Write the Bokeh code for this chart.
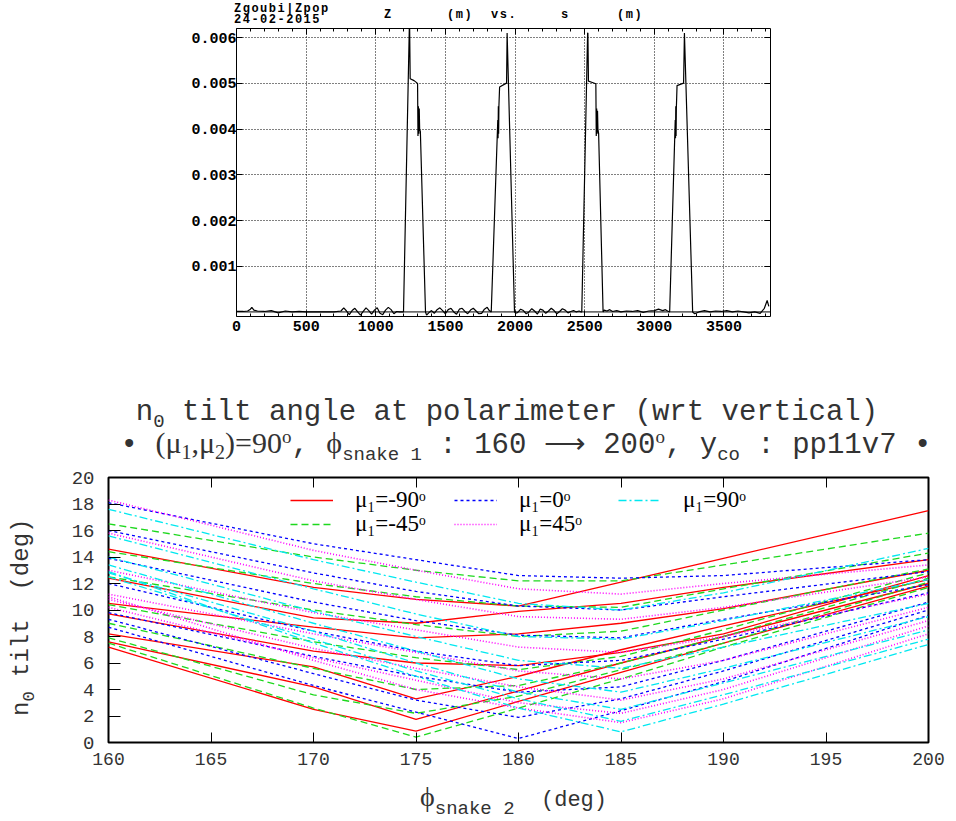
from bokeh.plotting import figure
from bokeh.models import (Range1d, FixedTicker, LinearAxis, Legend, LegendItem, Div,
                          Span, PrintfTickFormatter, CustomJSTickFormatter)
from bokeh.layouts import column, row
from bokeh.embed import file_html
from bokeh.resources import INLINE

MONO = "Liberation Mono"
SERIF = "Liberation Serif"

# ---------------- top chart data: Z (m) vs s (m), z in mm ----------------
s_base1 = [0, 50, 80, 100, 110, 125, 150, 200, 250, 300, 350, 400, 450, 500, 600, 700, 750, 770, 790, 810,
           830, 850, 870, 890, 910, 930, 950, 970, 990, 1010, 1030, 1050, 1070, 1090, 1110, 1130, 1150, 1170, 1190]
z_base1 = [0.01, 0.01, 0.02, 0.06, 0.1, 0.04, 0.02, 0.01, 0.03, -0.02, 0.02, 0.0, 0.01, 0.0, 0.0, 0.0, 0.02, 0.09, 0.02, -0.06,
           0.03, 0.08, 0.0, -0.07, 0.01, 0.09, 0.03, -0.05, 0.04, 0.09, -0.03, -0.06, 0.04, 0.1, 0.05, -0.04, 0.01, 0.0, 0.0]
s_peak1 = [1199, 1241, 1243, 1247, 1275, 1300, 1303, 1306, 1309, 1312, 1315, 1320, 1357]
z_peak1 = [0.0, 6.25, 6.25, 5.1, 5.06, 5.0, 3.85, 4.5, 3.9, 4.45, 4.0, 3.95, 0.0]
s_base2 = [1365, 1380, 1400, 1420, 1440, 1460, 1480, 1500, 1520, 1540, 1560, 1580, 1600, 1620, 1640, 1660,
           1680, 1700, 1720, 1740, 1760, 1780, 1800, 1815]
z_base2 = [-0.07, -0.02, 0.03, -0.03, 0.05, 0.09, 0.03, -0.04, 0.05, 0.08, 0.0, -0.05, 0.06, 0.08, 0.01, -0.04,
           0.04, 0.08, 0.02, -0.04, -0.03, 0.06, 0.1, 0.03]
s_peak2 = [1829, 1876, 1878, 1880, 1882, 1884, 1889, 1935, 1939, 1943, 1996]
z_peak2 = [0.0, 4.2, 3.8, 4.5, 3.9, 4.5, 4.92, 5.0, 5.0, 6.1, 0.0]
s_base3 = [2005, 2020, 2040, 2060, 2080, 2100, 2120, 2140, 2160, 2180, 2200, 2220, 2240, 2260, 2280, 2300,
           2320, 2340, 2360, 2380, 2400, 2420, 2440, 2460, 2475]
z_base3 = [-0.03, -0.01, 0.06, 0.03, -0.04, 0.0, 0.07, 0.02, -0.05, 0.06, 0.04, -0.03, 0.02, 0.08, 0.03, -0.04,
           0.01, 0.07, 0.04, -0.02, 0.01, 0.03, 0.0, 0.02, 0.0]
s_peak3 = [2479, 2521, 2523, 2527, 2555, 2580, 2583, 2586, 2589, 2592, 2595, 2600, 2632]
z_peak3 = [0.0, 6.1, 6.1, 5.05, 5.02, 4.99, 3.85, 4.45, 3.9, 4.4, 4.0, 3.9, 0.0]
s_base4 = [2640, 2660, 2680, 2700, 2730, 2760, 2800, 2840, 2880, 2920, 2960, 3000, 3030, 3060, 3080, 3095]
z_base4 = [0.04, 0.02, 0.05, 0.01, 0.03, 0.0, 0.02, 0.01, 0.03, -0.01, 0.02, 0.03, 0.06, 0.03, 0.05, 0.02]
s_peak4 = [3110, 3150, 3152, 3154, 3156, 3158, 3163, 3205, 3210, 3216, 3275]
z_peak4 = [0.0, 4.2, 3.8, 4.5, 3.85, 4.45, 4.95, 5.0, 5.0, 6.1, 0.0]
s_base5 = [3290, 3320, 3360, 3400, 3440, 3480, 3520, 3560, 3600, 3640, 3680, 3720, 3760, 3790, 3810, 3822]
z_base5 = [-0.04, 0.0, 0.03, 0.0, 0.02, 0.01, 0.03, 0.0, 0.02, 0.0, -0.02, 0.0, -0.03, 0.08, 0.25, 0.12]

s_ticks = [0, 500, 1000, 1500, 2000, 2500, 3000, 3500]
z_ticks = [0.001, 0.002, 0.003, 0.004, 0.005, 0.006]

# ---------------- bottom chart data: n0 tilt vs phi_snake2 ----------------
phi2 = [160, 170, 175, 180, 185, 190, 200]
tilt_mu_m90 = [
    [14.6, 11.7, 10.8, 10.3, 12.1, 13.9, 17.5],
    [12.4, 9.4, 9.0, 9.9, 10.5, 11.7, 13.8],
    [10.5, 8.7, 7.9, 8.2, 9.0, 10.1, 13.0],
    [9.7, 6.9, 6.0, 5.8, 6.8, 8.2, 12.6],
    [8.2, 5.7, 3.3, 5.0, 7.0, 8.8, 12.3],
    [7.6, 4.2, 1.75, 3.9, 6.0, 8.0, 12.0],
    [7.2, 2.5, 0.85, 3.1, 5.3, 7.5, 11.8],
]
tilt_mu_m45 = [
    [16.5, 14.0, 13.0, 12.2, 12.2, 13.4, 15.8],
    [14.4, 12.0, 11.0, 10.3, 10.2, 11.6, 14.3],
    [12.5, 10.0, 8.9, 8.0, 8.4, 10.0, 13.1],
    [10.4, 7.6, 6.4, 5.5, 6.5, 8.5, 12.8],
    [9.0, 5.6, 4.0, 4.3, 6.0, 8.0, 12.4],
    [7.9, 3.6, 2.2, 3.5, 5.5, 7.5, 12.1],
    [7.5, 2.6, 0.4, 2.6, 4.8, 7.2, 11.7],
]
tilt_mu_0 = [
    [18.1, 15.0, 13.8, 12.6, 12.4, 12.6, 13.8],
    [16.0, 12.8, 11.4, 10.3, 10.0, 11.0, 12.9],
    [13.9, 10.6, 9.2, 8.1, 7.9, 9.3, 11.9],
    [12.0, 8.4, 6.9, 5.8, 6.2, 7.8, 11.3],
    [9.8, 6.5, 5.0, 3.8, 4.2, 6.2, 10.6],
    [9.3, 5.2, 3.2, 1.9, 3.3, 5.4, 10.0],
    [8.7, 4.3, 2.3, 0.3, 2.4, 4.6, 9.6],
]
tilt_mu_45 = [
    [18.3, 14.5, 13.0, 11.6, 11.2, 12.0, 13.4],
    [15.8, 12.2, 10.8, 9.5, 9.3, 10.2, 12.5],
    [13.0, 9.8, 8.5, 7.2, 6.8, 8.0, 11.2],
    [11.2, 8.2, 6.8, 5.4, 4.8, 6.2, 10.2],
    [10.8, 7.1, 5.6, 4.2, 3.2, 4.8, 9.2],
    [10.2, 6.4, 4.7, 3.0, 2.2, 4.0, 8.8],
    [11.0, 6.2, 4.0, 2.6, 1.5, 3.3, 8.2],
]
tilt_mu_90 = [
    [17.6, 13.8, 12.1, 10.5, 10.0, 11.3, 14.65],
    [15.6, 11.6, 9.7, 8.0, 7.8, 9.2, 12.3],
    [14.0, 9.9, 8.0, 6.2, 5.6, 7.2, 10.5],
    [13.4, 9.0, 6.9, 4.8, 3.8, 5.6, 9.5],
    [12.8, 8.4, 6.0, 3.8, 2.5, 4.5, 8.5],
    [12.5, 7.8, 5.4, 3.3, 1.6, 3.6, 7.8],
    [12.9, 7.5, 5.0, 2.6, 0.8, 2.9, 7.4],
]
mu_labels = ["μ₁=-90ᵒ", "μ₁=-45ᵒ", "μ₁=0ᵒ", "μ₁=45ᵒ", "μ₁=90ᵒ"]
phi2_ticks = [160, 165, 170, 175, 180, 185, 190, 195, 200]
tilt_ticks = [0, 2, 4, 6, 8, 10, 12, 14, 16, 18, 20]

blank = CustomJSTickFormatter(code="return ''")
TXT = "#333333"


def span(text, left, top, extra=""):
    return (f'<div style="position:absolute;left:{left}px;top:{top}px;white-space:pre;{extra}">'
            f'{text}</div>')


# ================= header texts (top chart) =================
hdr_font = (f"font-family:'{MONO}';font-weight:bold;font-size:12px;line-height:12px;"
            f"letter-spacing:1.5px;color:#000;")
hdr_html = (f'<div style="position:relative;width:956px;height:26px;{hdr_font}">'
            + span("Zgoubi|Zpop", 234, 3) + span("24-02-2015", 234, 14)
            + span("Z", 384, 9) + span("(m)", 447, 9) + span("vs.", 491, 9)
            + span("s", 561, 9) + span("(m)", 617, 9) + '</div>')
header = Div(text=hdr_html, width=956, height=26, margin=(0, 0, 0, 0))

# ================= TOP FIGURE =================
top = figure(width=956, height=330, output_backend="svg", toolbar_location=None,
             x_range=Range1d(0, 3834), y_range=Range1d(-0.0001, 0.0062),
             min_border_left=236, min_border_right=186, min_border_top=2, min_border_bottom=40,
             x_axis_location=None, y_axis_location=None)
top.outline_line_color = "black"
top.outline_line_width = 1

s_all = s_base1 + s_peak1 + s_base2 + s_peak2 + s_base3 + s_peak3 + s_base4 + s_peak4 + s_base5
z_all = z_base1 + z_peak1 + z_base2 + z_peak2 + z_base3 + z_peak3 + z_base4 + z_peak4 + z_base5
top.add_layout(Span(location=0.0, dimension="width", line_color="black", line_width=1))
top.line(s_all, [z * 1e-3 for z in z_all], line_color="black", line_width=1.2)

minor_s = list(range(100, 3834, 100))
bold_mono = dict(major_label_text_font=MONO, major_label_text_font_style="bold",
                 major_label_text_font_size="15px", major_label_text_color="black")
xa = LinearAxis(ticker=FixedTicker(ticks=s_ticks, minor_ticks=minor_s), axis_line_color=None,
                major_tick_in=6, major_tick_out=0, minor_tick_in=3, minor_tick_out=0,
                major_label_standoff=4, **bold_mono)
top.add_layout(xa, "below")
xa2 = LinearAxis(ticker=FixedTicker(ticks=s_ticks, minor_ticks=minor_s), axis_line_color=None,
                 major_tick_in=6, major_tick_out=0, minor_tick_in=3, minor_tick_out=0,
                 formatter=blank, major_label_text_font_size="1px", major_label_standoff=0)
top.add_layout(xa2, "above")
ya = LinearAxis(ticker=FixedTicker(ticks=z_ticks), axis_line_color=None,
                major_tick_in=6, major_tick_out=0, minor_tick_line_color=None,
                major_label_standoff=0, formatter=PrintfTickFormatter(format="%.3f"), **bold_mono)
top.add_layout(ya, "left")
ya2 = LinearAxis(ticker=FixedTicker(ticks=z_ticks), axis_line_color=None,
                 major_tick_in=6, major_tick_out=0, minor_tick_line_color=None,
                 formatter=blank, major_label_text_font_size="1px", major_label_standoff=0)
top.add_layout(ya2, "right")
top.xgrid.ticker = FixedTicker(ticks=s_ticks[1:])
top.ygrid.ticker = FixedTicker(ticks=z_ticks)
for g in (top.xgrid, top.ygrid):
    g.grid_line_color = "black"
    g.grid_line_dash = "1 2"
    g.grid_line_width = 1

# ================= bottom chart titles =================
M = f"font-family:'{MONO}';"
S = f"font-family:'{SERIF}';"


def sub(t, size, shift, fam):
    return f'<span style="{fam}font-size:{size}px;vertical-align:{shift}px;line-height:0">{t}</span>'


def ser(t, size=30):
    return f'<span style="{S}font-size:{size}px;line-height:0">{t}</span>'


title1 = "n" + sub("0", 19, -7, M) + " tilt angle at polarimeter (wrt vertical)"
title2 = ("• " + ser("(μ") + sub("1", 20, -6, S) + ser(",μ") + sub("2", 20, -6, S) + ser(")=90")
          + sub("o", 19, 10, S) + ", " + ser("ϕ") + sub("snake 1", 19, -7, M)
          + " : 160 " + '<span style="line-height:0">⟶</span>' + " 200" + sub("o", 19, 10, S)
          + ", y" + sub("co", 19, -7, M) + " : pp11v7 •")
tfont = f"{M}font-size:29px;line-height:29px;color:{TXT};"
title_html = (f'<div style="position:relative;width:956px;height:109px;{tfont}">'
              + span(title1, 29, 42, "width:956px;text-align:center;")
              + span(title2, 48, 75, "width:956px;text-align:center;")
              + '</div>')
title_div = Div(text=title_html, width=956, height=109, margin=(0, 0, 0, 0))

ylab = "n" + sub("0", 17, -6, M) + " tilt  (deg)"
ylab_html = (f'<div style="position:relative;width:50px;height:312px;{M}font-size:24px;'
             f'line-height:24px;color:{TXT};">'
             + span(ylab, 10, 251, "transform:rotate(-90deg);transform-origin:0 0;")
             + '</div>')
ylab_div = Div(text=ylab_html, width=50, height=312, margin=(0, 0, 0, 0))

xlab = (f'<span style="{S}font-size:28px;line-height:0">ϕ</span>' + sub("snake 2", 19, -8, M)
        + "  (deg)")
xlab_html = (f'<div style="position:relative;width:956px;height:40px;{M}font-size:22px;'
             f'line-height:22px;color:{TXT};">' + span(xlab, 420, 13) + '</div>')
xlab_div = Div(text=xlab_html, width=956, height=40, margin=(0, 0, 0, 0))

# ================= BOTTOM FIGURE =================
bot = figure(width=906, height=312, output_backend="svg", toolbar_location=None,
             x_range=Range1d(160, 200), y_range=Range1d(0, 20),
             min_border_left=58, min_border_right=28, min_border_top=12, min_border_bottom=35,
             x_axis_location=None, y_axis_location=None)
bot.outline_line_color = "black"
bot.outline_line_width = 2
bot.xgrid.visible = False
bot.ygrid.visible = False

styles = [
    (tilt_mu_m90, dict(line_color="#ff0000", line_width=1.3)),
    (tilt_mu_m45, dict(line_color="#1ed81e", line_width=1.3, line_dash="7 4")),
    (tilt_mu_0, dict(line_color="#0000ff", line_width=1.3, line_dash="3 3")),
    (tilt_mu_45, dict(line_color="#ff00ff", line_width=1.6, line_dash="1 2")),
    (tilt_mu_90, dict(line_color="#00e8f0", line_width=1.3, line_dash="8 3 2 3")),
]
first = []
for series, st in styles:
    rs = [bot.line(phi2, vals, **st) for vals in series]
    first.append(rs[0])

common = dict(orientation="horizontal", padding=0, margin=0, spacing=19, glyph_width=43,
              glyph_height=20, label_standoff=22, label_width=80, label_height=20,
              background_fill_alpha=0, border_line_color=None,
              label_text_font=SERIF, label_text_font_size="23px", label_text_color="black")
leg1 = Legend(items=[LegendItem(label=mu_labels[0], renderers=[first[0]]),
                     LegendItem(label=mu_labels[2], renderers=[first[2]]),
                     LegendItem(label=mu_labels[4], renderers=[first[4]])],
              location=(182, 229), **common)
leg2 = Legend(items=[LegendItem(label=mu_labels[1], renderers=[first[1]]),
                     LegendItem(label=mu_labels[3], renderers=[first[3]])],
              location=(182, 205), **common)
bot.add_layout(leg1)
bot.add_layout(leg2)

tick_font = dict(major_label_text_font=MONO, major_label_text_color=TXT)
bx = LinearAxis(ticker=FixedTicker(ticks=phi2_ticks, minor_ticks=[]), axis_line_color=None,
                major_tick_in=10, major_tick_out=0, major_label_standoff=10,
                major_label_text_font_size="18px", **tick_font)
bot.add_layout(bx, "below")
bx2 = LinearAxis(ticker=FixedTicker(ticks=phi2_ticks, minor_ticks=[]), axis_line_color=None,
                 major_tick_in=10, major_tick_out=0, major_label_standoff=0,
                 formatter=blank, major_label_text_font_size="1px")
bot.add_layout(bx2, "above")
by = LinearAxis(ticker=FixedTicker(ticks=tilt_ticks, minor_ticks=[]), axis_line_color=None,
                major_tick_in=12, major_tick_out=0, major_label_standoff=14,
                major_label_text_font_size="19px", **tick_font)
bot.add_layout(by, "left")

layout = column(header, row(top), title_div, row(ylab_div, bot), xlab_div, spacing=0)
open("out.html", "w").write(file_html(layout, INLINE))
